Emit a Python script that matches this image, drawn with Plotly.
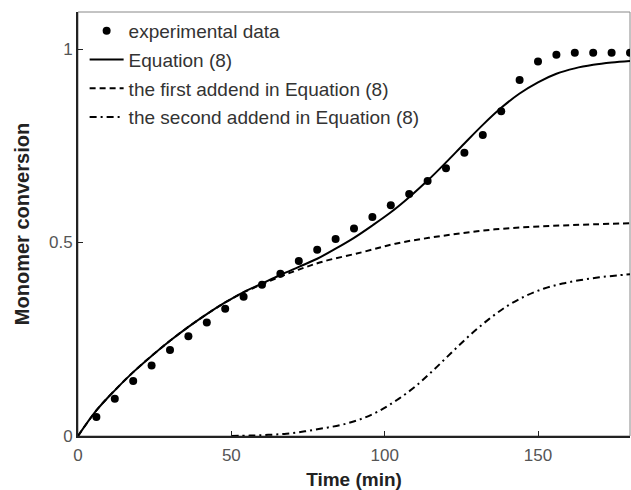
import plotly.graph_objects as go

# Experimental data
t_exp = [6, 12, 18, 24, 30, 36, 42, 48, 54, 60, 66, 72, 78, 84, 90, 96, 102, 108,
         114, 120, 126, 132, 138, 144, 150, 156, 162, 168, 174, 180]
y_exp = [0.049, 0.096, 0.142, 0.182, 0.222, 0.258, 0.293, 0.329, 0.360, 0.391,
         0.419, 0.452, 0.481, 0.509, 0.536, 0.566, 0.596, 0.625, 0.659, 0.692,
         0.732, 0.778, 0.839, 0.920, 0.968, 0.985, 0.990, 0.990, 0.990, 0.990]

# Equation (8)
t_eq = [0, 6, 12, 18, 24, 30, 36, 42, 48, 54, 60, 66, 72, 78, 84, 90, 96, 102,
        108, 114, 120, 126, 132, 138, 144, 150, 156, 162, 168, 174, 180]
y_eq = [0.0, 0.066, 0.118, 0.165, 0.207, 0.246, 0.282, 0.315, 0.345, 0.372,
        0.394, 0.416, 0.437, 0.458, 0.484, 0.512, 0.544, 0.578, 0.617, 0.660,
        0.707, 0.756, 0.804, 0.848, 0.885, 0.914, 0.936, 0.950, 0.959, 0.965, 0.969]

# First addend in Equation (8)
t_a1 = [0, 6, 12, 18, 24, 30, 36, 42, 48, 54, 60, 66, 72, 80, 92.7, 103.5,
        114.4, 125.2, 136, 146.9, 157.7, 168.5, 180]
y_a1 = [0.0, 0.066, 0.118, 0.165, 0.207, 0.246, 0.282, 0.315, 0.345, 0.371,
        0.392, 0.412, 0.430, 0.451, 0.475, 0.497, 0.512, 0.524, 0.534, 0.540,
        0.544, 0.547, 0.550]

# Second addend in Equation (8)
t_a2 = [50, 56, 62, 68, 74, 80, 86, 92, 98, 104, 110, 116, 122, 128, 134, 140,
        146, 152, 158, 164, 170, 176, 180]
y_a2 = [0.0, 0.001, 0.003, 0.006, 0.012, 0.020, 0.029, 0.043, 0.064, 0.093,
        0.128, 0.171, 0.217, 0.262, 0.302, 0.336, 0.362, 0.381, 0.394, 0.403,
        0.410, 0.415, 0.418]

x_ticks = [0, 50, 100, 150]
y_ticks = [0, 0.5, 1]
y_tick_labels = ["0", "0.5", "1"]

FONT = "Liberation Sans, Arial, sans-serif"

fig = go.Figure()
fig.add_trace(go.Scatter(x=t_exp, y=y_exp, mode="markers", name="experimental data",
                         marker=dict(color="black", size=8), legendgroup="a"))
fig.add_trace(go.Scatter(x=t_eq, y=y_eq, mode="lines", name="Equation (8)",
                         line=dict(color="black", width=2, shape="spline"), legendgroup="b"))
fig.add_trace(go.Scatter(x=t_a1, y=y_a1, mode="lines", name="the first addend in Equation (8)",
                         line=dict(color="black", width=2, dash="6px,4px", shape="spline"),
                         legendgroup="c"))
fig.add_trace(go.Scatter(x=t_a2, y=y_a2, mode="lines", name="the second addend in Equation (8)",
                         line=dict(color="black", width=2, dash="7px,4px,2px,4px", shape="spline"),
                         legendgroup="d"))

axis_common = dict(showgrid=False, zeroline=False, showline=True, linecolor="#222",
                   linewidth=2, ticks="inside", ticklen=5, tickcolor="#222",
                   tickfont=dict(family=FONT, size=17, color="#555"))

fig.update_xaxes(range=[0, 180], tickvals=x_ticks, ticklabelstandoff=3,
                 title=dict(text="<b>Time (min)</b>", standoff=10,
                            font=dict(family=FONT, size=19, color="#222")),
                 **axis_common)
fig.update_yaxes(range=[0, 1.0956], tickvals=y_ticks, ticktext=y_tick_labels,
                 title=dict(text="<b>Monomer conversion</b>", standoff=14,
                            font=dict(family=FONT, size=20, color="#222")),
                 **axis_common)

fig.add_shape(type="rect", xref="paper", yref="paper", x0=0, y0=0, x1=1, y1=1,
              line=dict(color="#888", width=1), layer="below")

fig.update_layout(
    width=631, height=490,
    margin=dict(l=78, r=1, t=12, b=54),
    plot_bgcolor="white", paper_bgcolor="white",
    showlegend=True,
    legend=dict(x=0.012, y=1.0, xanchor="left", yanchor="top",
                bgcolor="rgba(0,0,0,0)", tracegroupgap=1, itemwidth=34,
                font=dict(family=FONT, size=19, color="#333")),
)

fig.write_html("out.html", config={"displayModeBar": False},
               post_script="document.body.style.margin='0px';")
